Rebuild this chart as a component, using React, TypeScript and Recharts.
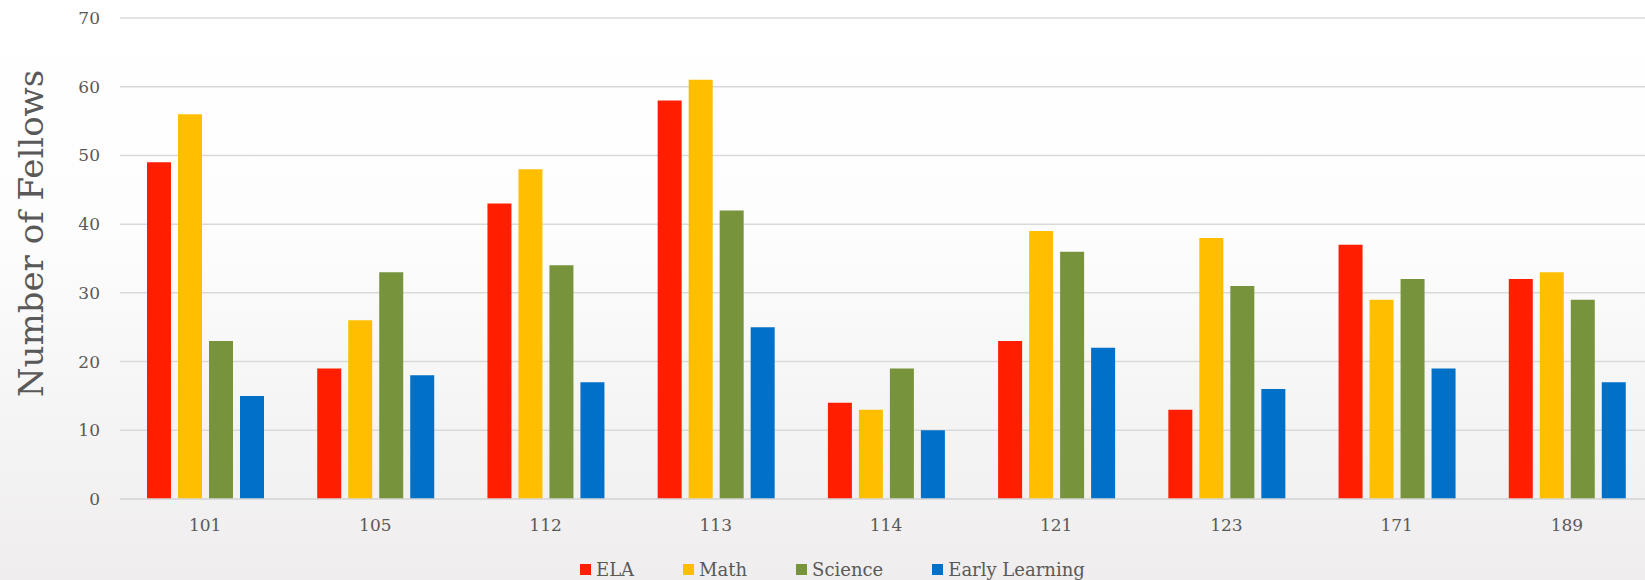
import React from "react";
import { BarChart, Bar, XAxis, YAxis, CartesianGrid, Legend } from "recharts";

const schools = ["101", "105", "112", "113", "114", "121", "123", "171", "189"];
const ela = [49, 19, 43, 58, 14, 23, 13, 37, 32];
const math = [56, 26, 48, 61, 13, 39, 38, 29, 33];
const science = [23, 33, 34, 42, 19, 36, 31, 32, 29];
const earlyLearning = [15, 18, 17, 25, 10, 22, 16, 19, 17];
const yTicks = [0, 10, 20, 30, 40, 50, 60, 70];

const data = schools.map((s, i) => ({
  school: s,
  ELA: ela[i],
  Math: math[i],
  Science: science[i],
  "Early Learning": earlyLearning[i],
}));

const SERIES = [
  { key: "ELA", color: "#ff1e00" },
  { key: "Math", color: "#ffbf00" },
  { key: "Science", color: "#77933c" },
  { key: "Early Learning", color: "#0070c8" },
];

const FONT = "'DejaVu Serif', serif";
const TEXT = "#595959";

// rotated axis title, baseline sits at x=43
const YLabel = (props: any) => {
  const { viewBox } = props;
  const x = viewBox.x + 43;
  const y = viewBox.y + viewBox.height / 2 - 25;
  return (
    <text
      x={x}
      y={y}
      transform={`rotate(-90, ${x}, ${y})`}
      textAnchor="middle"
      fill={TEXT}
      fontSize={34}
      fontFamily={FONT}
    >
      Number of Fellows
    </text>
  );
};

const LegendContent = () => (
  <div
    style={{
      display: "flex",
      height: 22,
      alignItems: "center",
      paddingLeft: 580,
      fontFamily: FONT,
      fontSize: 18,
      color: TEXT,
    }}
  >
    {SERIES.map((s) => (
      <div key={s.key} style={{ display: "flex", alignItems: "center", marginRight: 49 }}>
        <span style={{ width: 11, height: 11, background: s.color, marginRight: 5 }} />
        <span>{s.key}</span>
      </div>
    ))}
  </div>
);

const App = () => {
  return (
    <div
      style={{
        position: "absolute",
        top: 0,
        left: 0,
        width: 1645,
        height: 580,
        overflow: "hidden",
        background: "linear-gradient(to bottom, #ffffff 0%, #fdfdfd 40%, #efeded 100%)",
      }}
    >
      <BarChart
        width={1652}
        height={580}
        data={data}
        margin={{ top: 18, right: 0, left: 0, bottom: 0 }}
        barSize={24}
        barGap={7}
      >
        <CartesianGrid vertical={false} stroke="#d9d9d9" strokeWidth={1.5} />
        <XAxis
          dataKey="school"
          height={59}
          tickSize={0}
          tickMargin={20}
          axisLine={{ stroke: "#d9d9d9", strokeWidth: 1.5 }}
          tick={{ fill: TEXT, fontSize: 17, fontFamily: FONT }}
        />
        <YAxis
          width={120}
          domain={[0, 70]}
          ticks={yTicks}
          axisLine={false}
          tickSize={0}
          tickMargin={20}
          tick={{ fill: TEXT, fontSize: 17, fontFamily: FONT }}
          label={<YLabel />}
        />
        <Legend
          verticalAlign="bottom"
          align="left"
          height={22}
          content={<LegendContent />}
        />
        {SERIES.map((s) => (
          <Bar key={s.key} dataKey={s.key} fill={s.color} isAnimationActive={false} />
        ))}
      </BarChart>
    </div>
  );
};

export default App;
